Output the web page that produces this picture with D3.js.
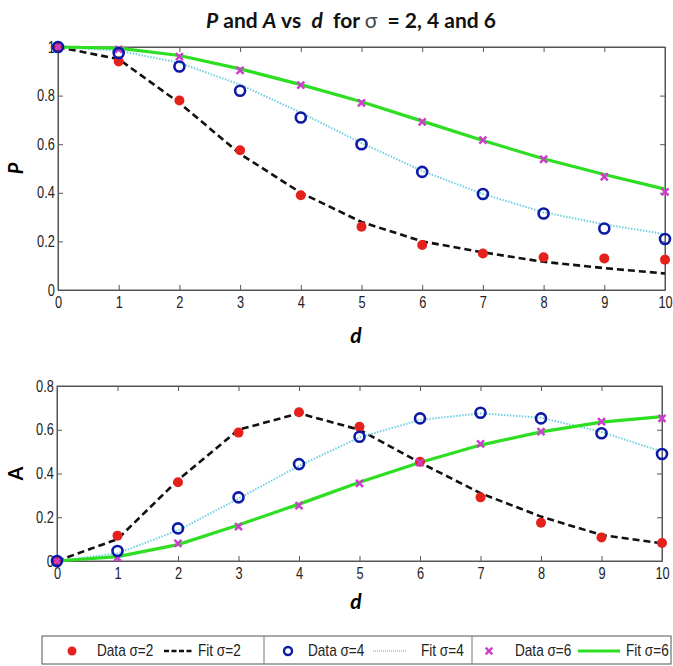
<!DOCTYPE html>
<html lang="en">
  <head>
    <meta charset="utf-8">
    <title>P and A vs d</title>
    <script src="https://d3js.org/d3.v7.min.js"></script>
    <style>
      body { margin: 0; background: #fff; }
      svg { display: block; }
      .tick text { font-family: "Liberation Sans", Arial, sans-serif; font-size: 16px; fill: #222; }
      .axis path, .axis line { stroke: #555; }
    </style>
  </head>
  <body>
    <div id="main"></div>
    <script>
      // data
      const dVals = [0, 1, 2, 3, 4, 5, 6, 7, 8, 9, 10];

      const pData2 = [1.0, 0.94, 0.78, 0.575, 0.39, 0.26, 0.185, 0.15, 0.135, 0.13, 0.125];
      const pFit2  = [1.0, 0.95, 0.77, 0.56, 0.40, 0.28, 0.20, 0.155, 0.116, 0.09, 0.068];
      const pData4 = [1.0, 0.975, 0.92, 0.82, 0.71, 0.60, 0.486, 0.395, 0.315, 0.253, 0.21];
      const pFit4  = [1.0, 0.985, 0.935, 0.845, 0.73, 0.605, 0.49, 0.395, 0.32, 0.27, 0.23];
      const pData6 = [1.0, 0.99, 0.96, 0.904, 0.843, 0.77, 0.692, 0.617, 0.538, 0.466, 0.404];
      const pFit6  = [1.0, 0.995, 0.965, 0.91, 0.845, 0.775, 0.695, 0.615, 0.54, 0.475, 0.415];

      const aData2 = [0, 0.116, 0.36, 0.587, 0.68, 0.614, 0.454, 0.291, 0.175, 0.108, 0.082];
      const aFit2  = [0, 0.10, 0.37, 0.60, 0.675, 0.60, 0.45, 0.31, 0.203, 0.119, 0.081];
      const aData4 = [0, 0.046, 0.149, 0.291, 0.443, 0.568, 0.652, 0.678, 0.652, 0.584, 0.489];
      const aFit4  = [0, 0.035, 0.14, 0.285, 0.435, 0.565, 0.645, 0.675, 0.655, 0.59, 0.50];
      const aData6 = [0, 0.015, 0.081, 0.157, 0.253, 0.355, 0.45, 0.535, 0.591, 0.637, 0.652];
      const aFit6  = [0, 0.02, 0.075, 0.165, 0.26, 0.36, 0.45, 0.53, 0.59, 0.635, 0.66];

      const pTicks = [0, 0.2, 0.4, 0.6, 0.8, 1];
      const aTicks = [0, 0.2, 0.4, 0.6, 0.8];
      const legendLabels = ['Data σ=2', 'Fit σ=2', 'Data σ=4', 'Fit σ=4', 'Data σ=6', 'Fit σ=6'];

      const W = 673, H = 666;
      const svg = d3.select('#main').append('svg')
        .attr('width', W).attr('height', H);

      const RED = '#e4211b', BLUE = '#0c1aa6', MAG = '#cc3fcc', CYAN = '#6fd0e2', GREEN = '#2ede22';
      const NARROW = 0.8;

      const fmt = v => v === 0 ? '0' : v === 1 ? '1' : d3.format('.1f')(v);

      // title
      const title = svg.append('text')
        .attr('x', 351).attr('y', 28)
        .attr('text-anchor', 'middle')
        .style('font-family', 'Lato, "Open Sans", sans-serif')
        .style('font-weight', 'bold')
        .style('font-size', '21px')
        .style('fill', '#111')
        .style('white-space', 'pre');
      title.append('tspan').style('font-style', 'italic').text('P');
      title.append('tspan').text(' and ');
      title.append('tspan').style('font-style', 'italic').text('A');
      title.append('tspan').text(' vs  ');
      title.append('tspan').style('font-style', 'italic').text('d');
      title.append('tspan').text('  for ');
      title.append('tspan').style('font-weight', 'normal').style('fill', '#444').text('σ');
      title.append('tspan').text('  = 2, 4 and 6');

      function narrowTicks(sel) {
        sel.selectAll('.tick text').attr('transform', `scale(${NARROW},1)`);
      }

      function panel(box, yMax, yTicks, series, yLabel, yItalic, dLabelY) {
        const x = d3.scaleLinear().domain([0, 10]).range([box.left, box.right]);
        const y = d3.scaleLinear().domain([0, yMax]).range([box.bottom, box.top]);
        const g = svg.append('g');

        g.append('rect')
          .attr('x', box.left).attr('y', box.top)
          .attr('width', box.right - box.left).attr('height', box.bottom - box.top)
          .attr('fill', 'none').attr('stroke', '#555');

        g.append('g').attr('class', 'axis')
          .attr('transform', `translate(0,${box.bottom})`)
          .call(d3.axisBottom(x).tickValues(dVals).tickSizeInner(-5).tickSizeOuter(0).tickPadding(7))
          .call(narrowTicks);
        g.append('g').attr('class', 'axis')
          .attr('transform', `translate(0,${box.top})`)
          .call(d3.axisTop(x).tickValues(dVals).tickSizeInner(-5).tickSizeOuter(0).tickFormat(''));
        g.append('g').attr('class', 'axis')
          .attr('transform', `translate(${box.left},0)`)
          .call(d3.axisLeft(y).tickValues(yTicks).tickSizeInner(-5).tickSizeOuter(0).tickPadding(4).tickFormat(fmt))
          .call(narrowTicks);
        g.append('g').attr('class', 'axis')
          .attr('transform', `translate(${box.right},0)`)
          .call(d3.axisRight(y).tickValues(yTicks).tickSizeInner(-5).tickSizeOuter(0).tickFormat(''));

        const line = d3.line()
          .x((v, i) => x(dVals[i]))
          .y(v => y(v));

        // fit lines
        g.append('path').attr('d', line(series.fit2)).attr('fill', 'none')
          .attr('stroke', '#111').attr('stroke-width', 2.6).attr('stroke-dasharray', '7,4');
        g.append('path').attr('d', line(series.fit4)).attr('fill', 'none')
          .attr('stroke', CYAN).attr('stroke-width', 2).attr('stroke-dasharray', '1.5,1.5');
        g.append('path').attr('d', line(series.fit6)).attr('fill', 'none')
          .attr('stroke', GREEN).attr('stroke-width', 3.2);

        // data markers
        g.selectAll('.m2').data(series.data2).join('circle')
          .attr('cx', (v, i) => x(dVals[i])).attr('cy', v => y(v))
          .attr('r', 5).attr('fill', RED);
        g.selectAll('.m6').data(series.data6).join('path')
          .attr('transform', (v, i) => `translate(${x(dVals[i])},${y(v)})`)
          .attr('d', d3.symbol(d3.symbolX, 34)())
          .attr('fill', 'none').attr('stroke', MAG).attr('stroke-width', 2.5);
        g.selectAll('.m4').data(series.data4).join('circle')
          .attr('cx', (v, i) => x(dVals[i])).attr('cy', v => y(v))
          .attr('r', 5).attr('fill', 'none').attr('stroke', BLUE).attr('stroke-width', 2.6);

        // axis labels
        const cy = (box.top + box.bottom) / 2;
        svg.append('text')
          .attr('transform', `translate(23,${cy}) rotate(-90)`)
          .attr('text-anchor', 'middle')
          .style('font-family', 'Lato, "Open Sans", sans-serif')
          .style('font-weight', 'bold')
          .style('font-style', yItalic ? 'italic' : 'normal')
          .style('font-size', '20px')
          .text(yLabel);
        svg.append('text')
          .attr('x', 356).attr('y', dLabelY)
          .attr('text-anchor', 'middle')
          .style('font-family', 'Lato, "Open Sans", sans-serif')
          .style('font-weight', 'bold')
          .style('font-style', 'italic')
          .style('font-size', '21px')
          .text('d');
      }

      panel({ left: 58, right: 665, top: 47, bottom: 290 }, 1, pTicks,
        { data2: pData2, fit2: pFit2, data4: pData4, fit4: pFit4, data6: pData6, fit6: pFit6 },
        'P', true, 343);

      panel({ left: 57, right: 662, top: 386, bottom: 561 }, 0.8, aTicks,
        { data2: aData2, fit2: aFit2, data4: aData4, fit4: aFit4, data6: aData6, fit6: aFit6 },
        'A', false, 609);

      // legend
      const leg = svg.append('g');
      const legTop = 636, legBot = 664, legMid = 651;
      leg.append('rect').attr('x', 42).attr('y', legTop)
        .attr('width', 629).attr('height', legBot - legTop)
        .attr('fill', '#fff').attr('stroke', '#555');
      [264, 472].forEach(xx => leg.append('line')
        .attr('x1', xx).attr('x2', xx).attr('y1', legTop).attr('y2', legBot)
        .attr('stroke', '#777'));

      const legText = (xx, s) => leg.append('text')
        .attr('transform', `translate(${xx},${legMid + 5}) scale(0.85,1)`)
        .style('font-family', '"Liberation Sans", Arial, sans-serif')
        .style('font-size', '16px').style('fill', '#222')
        .text(s);

      leg.append('circle').attr('cx', 72).attr('cy', legMid).attr('r', 4.5).attr('fill', RED);
      legText(97, legendLabels[0]);
      leg.append('line').attr('x1', 164).attr('x2', 194).attr('y1', legMid).attr('y2', legMid)
        .attr('stroke', '#111').attr('stroke-width', 2.6).attr('stroke-dasharray', '5,2.5');
      legText(198, legendLabels[1]);

      leg.append('circle').attr('cx', 288).attr('cy', legMid).attr('r', 4).attr('fill', 'none')
        .attr('stroke', BLUE).attr('stroke-width', 2.4);
      legText(308, legendLabels[2]);
      leg.append('line').attr('x1', 373).attr('x2', 406).attr('y1', legMid).attr('y2', legMid)
        .attr('stroke', CYAN).attr('stroke-width', 1.6).attr('stroke-dasharray', '1,1');
      legText(421, legendLabels[3]);

      leg.append('path').attr('transform', `translate(489,${legMid})`)
        .attr('d', d3.symbol(d3.symbolX, 30)())
        .attr('fill', 'none').attr('stroke', MAG).attr('stroke-width', 2.5);
      legText(515, legendLabels[4]);
      leg.append('line').attr('x1', 578).attr('x2', 620).attr('y1', legMid).attr('y2', legMid)
        .attr('stroke', GREEN).attr('stroke-width', 3);
      legText(626, legendLabels[5]);
    </script>
  </body>
</html>
